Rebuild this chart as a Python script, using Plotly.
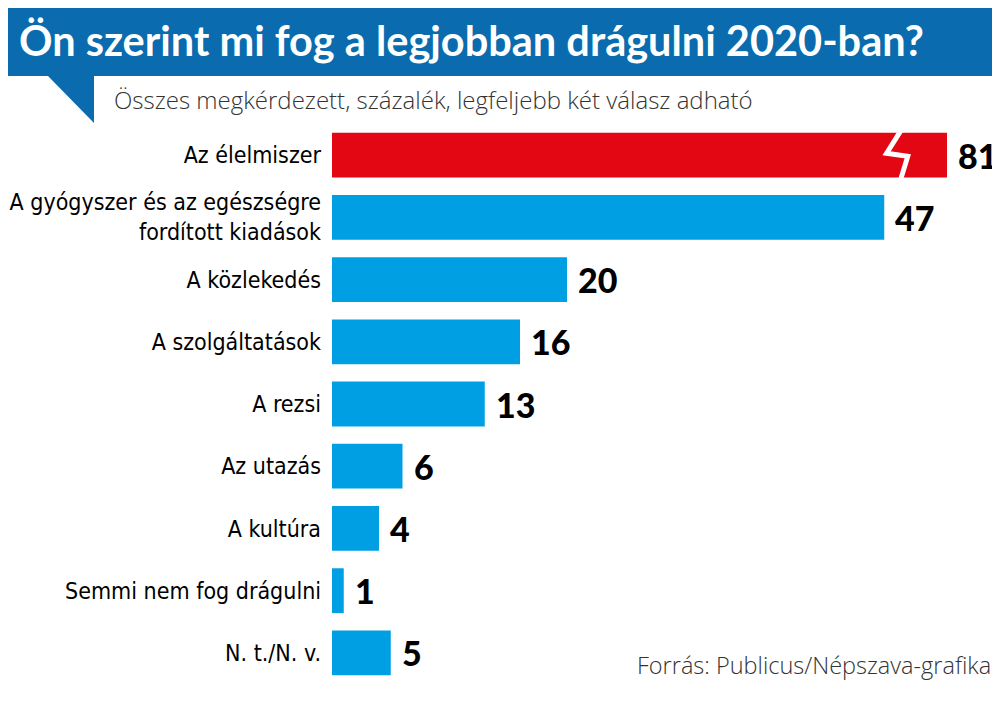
import plotly.graph_objects as go

# data
categories = ["Az élelmiszer", "A gyógyszer és az egészségre<br>fordított kiadások",
              "A közlekedés", "A szolgáltatások", "A rezsi", "Az utazás",
              "A kultúra", "Semmi nem fog drágulni", "N. t./N. v."]
values = [81, 47, 20, 16, 13, 6, 4, 1, 5]
bar_colors = ["#e30613"] + ["#009fe3"] * 8

title = "Ön szerint mi fog a legjobban drágulni 2020-ban?"
subtitle = "Összes megkérdezett, százalék, legfeljebb két válasz adható"
source = "Forrás: Publicus/Népszava-grafika"

W, H = 1000, 702
OFF = 8  # page body margin, the figure sits 8px in from the corner
L, R, T, B = 332 - OFF, 61, 124 - OFF, 26
XMAX = 52.34  # axis is cut here, the 81 bar is shown broken

# screen pixel -> paper coordinates
def px(x):
    return (x - OFF - L) / (W - L - R)

def py(y):
    return (H - B - (y - OFF)) / (H - T - B)

fig = go.Figure(go.Bar(
    x=values, y=categories, orientation="h",
    marker=dict(color=bar_colors, line=dict(width=0)),
    hoverinfo="x+y",
))

shapes = [
    # title banner and its speech-bubble tail
    dict(type="path", xref="paper", yref="paper", layer="above",
         path=f"M {px(0)} {py(2)} L {px(1010)} {py(2)} L {px(1010)} {py(76)} "
              f"L {px(94)} {py(76)} L {px(94)} {py(123)} L {px(48)} {py(76)} "
              f"L {px(0)} {py(76)} Z",
         fillcolor="#0a6cae", line=dict(width=0)),
    # break mark on the first bar
    dict(type="path", xref="x", yref="y", layer="above",
         path="M 48.6 -0.45 L 47.2 -0.03 L 49.0 0.02 L 48.3 0.45",
         line=dict(color="white", width=5)),
]

annotations = [
    dict(text=f"<b>{title}</b>", xref="paper", yref="paper", x=px(17), y=py(40),
         xanchor="left", yanchor="middle", showarrow=False,
         font=dict(family="Lato", size=41.5, color="white")),
    dict(text=subtitle, xref="paper", yref="paper", x=px(112), y=py(100),
         xanchor="left", yanchor="middle", showarrow=False,
         font=dict(family="Open Sans", size=24, color="#333333", weight=300)),
    dict(text=source, xref="paper", yref="paper", x=px(993), y=py(665),
         xanchor="right", yanchor="middle", showarrow=False,
         font=dict(family="Open Sans", size=23.5, color="#333333", weight=300)),
]
for c, v in zip(categories, values):
    annotations.append(dict(
        text=str(v), x=min(v, XMAX), y=c, xref="x", yref="y",
        xanchor="left", yanchor="middle", xshift=9, showarrow=False,
        font=dict(family="Lato", size=34, color="black", weight=900)))

fig.update_layout(
    width=W, height=H,
    margin=dict(l=L, r=R, t=T, b=B),
    paper_bgcolor="white", plot_bgcolor="white",
    bargap=0.28,
    showlegend=False,
    shapes=shapes,
    annotations=annotations,
    xaxis=dict(range=[0, XMAX], visible=False, fixedrange=True, automargin=False),
    yaxis=dict(range=[len(categories) - 0.5, -0.5], showgrid=False, zeroline=False,
               showline=False, ticks="", ticklabelstandoff=10, automargin=False,
               tickfont=dict(family="DejaVu Sans Condensed, Liberation Sans Narrow, Open Sans",
                             size=23, color="black"),
               fixedrange=True),
)

fig.write_html("out.html")
